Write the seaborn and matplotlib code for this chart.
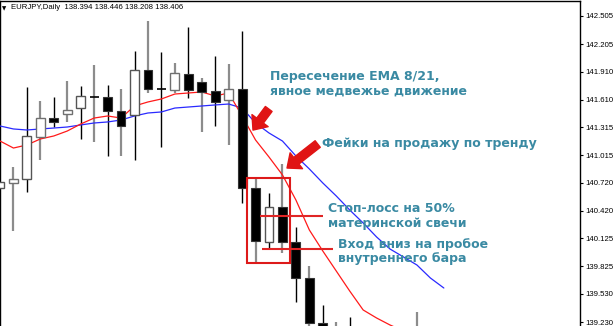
import numpy as np
import pandas as pd
import matplotlib
matplotlib.use("Agg")
import matplotlib.pyplot as plt
import seaborn as sns
from matplotlib.patches import Rectangle

# ---------------- data ----------------
nan = np.nan
opens  = [140.664, 140.718, 140.761, 141.210, 141.413, 141.456, 141.520, 141.638, 141.638, 141.488,
          141.446, 141.927, 141.724, 141.713, 141.884, 141.799, 141.702, 141.606, 141.724, 140.664,
          140.086, 140.461, 140.086, 139.701, 139.220, 139.091, 139.145, nan, nan, nan, nan, 139.150]
highs  = [140.729, 140.889, 141.745, 141.595, 141.638, 141.809, 141.756, 141.981, 141.767, 141.724,
          142.130, 142.451, 142.120, 142.002, 142.387, 141.842, 142.077, 141.991, 142.345, 140.771,
          140.611, 140.921, 140.247, 139.830, 139.412, 139.230, 139.284, nan, nan, nan, nan, 139.337]
lows   = [140.664, 140.204, 140.622, 140.964, 141.317, 141.371, 141.189, 141.157, 141.007, 141.007,
          140.964, 141.681, 141.103, 141.681, 141.627, 141.264, 141.328, 141.125, 140.504, 139.862,
          140.011, 139.969, 139.444, 139.038, 138.824, 138.824, 138.850, nan, nan, nan, nan, 138.850]
closes = [140.729, 140.761, 141.221, 141.413, 141.371, 141.499, 141.649, 141.638, 141.488, 141.328,
          141.927, 141.724, 141.724, 141.895, 141.713, 141.692, 141.585, 141.724, 140.664, 140.097,
          140.461, 140.086, 139.701, 139.220, 138.931, 138.984, 139.038, nan, nan, nan, nan, 139.050]

ema8 = [141.167, 141.092, 141.125, 141.189, 141.221, 141.274, 141.349, 141.413, 141.435, 141.413,
        141.542, 141.585, 141.617, 141.670, 141.681, 141.692, 141.649, 141.681, 141.435, 141.178,
        140.996, 140.804, 140.536, 140.215, 139.990, 139.776, 139.562, 139.359, 139.273, 139.198,
        139.134]
ema21 = [141.328, 141.296, 141.285, 141.296, 141.306, 141.317, 141.339, 141.360, 141.371, 141.392,
         141.435, 141.467, 141.478, 141.520, 141.531, 141.542, 141.553, 141.563, 141.520, 141.360,
         141.253, 141.167, 141.007, 140.868, 140.718, 140.579, 140.429, 140.290, 140.140, 140.011,
         139.926, 139.840, 139.701, 139.594]

price_ticks = [142.505, 142.205, 141.910, 141.610, 141.315, 141.015, 140.720, 140.420,
               140.125, 139.825, 139.530, 139.230]
title_text = "EURJPY,Daily  138.394 138.446 138.208 138.406"
stop_price = 140.365
mother_idx = 19
inside_idx = 20
entry_price = lows[inside_idx]

# ---------------- figure ----------------
sns.set_theme(style="white")
plt.rcParams["font.family"] = ["DejaVu Sans"]

W, H = 614, 326
fig = plt.figure(figsize=(W / 100, H / 100), dpi=100)
ax = fig.add_axes([0.0, 0.0, 580 / W, 325 / H])
ax.set_facecolor("white")

n = len(opens)
idx = np.arange(n)
df = pd.DataFrame({"i": idx, "o": opens, "h": highs, "l": lows, "c": closes})

# EMA lines via seaborn
ema_df = pd.concat([
    pd.DataFrame({"i": np.arange(len(ema21)), "v": ema21, "s": "EMA21"}),
    pd.DataFrame({"i": np.arange(len(ema8)), "v": ema8, "s": "EMA8"}),
])
sns.lineplot(data=ema_df, x="i", y="v", hue="s",
             palette={"EMA21": "#2a2aff", "EMA8": "#ff1a1a"},
             linewidth=0.9, legend=False, ax=ax, zorder=3)

# candles
body_w = 0.66
for _, r in df.iterrows():
    if np.isnan(r.o):
        continue
    gray = int(r.i) % 2 == 1
    wc = "#8c8c8c" if gray else "#000000"
    wl = 1.6 if gray else 1.0
    ax.vlines(r.i, r.l, r.h, color=wc, linewidth=wl, zorder=2)
    lo, hi = min(r.o, r.c), max(r.o, r.c)
    if hi - lo < 1e-6:
        ax.hlines(r.o, r.i - body_w / 2, r.i + body_w / 2, color="#000000", linewidth=1.2, zorder=4)
    elif r.c > r.o:
        ax.bar(r.i, hi - lo, bottom=lo, width=body_w, color="white",
               edgecolor="#555555" if not gray else "#707070", linewidth=1.0, zorder=4)
    else:
        ax.bar(r.i, hi - lo, bottom=lo, width=body_w, color="black",
               edgecolor="#333333", linewidth=0.8, zorder=4)

# highlight rectangle (mother candle range) and level lines
ax.add_patch(Rectangle((mother_idx - 0.62, lows[mother_idx]), 2.0 + 1.2,
                       highs[mother_idx] - lows[mother_idx],
                       fill=False, edgecolor="#dd1a1a", linewidth=1.5, zorder=5))
ax.hlines(stop_price, 19.33, 24.0, color="#e02525", linewidth=1.5, zorder=5)
ax.hlines(entry_price, 19.48, 24.76, color="#e02525", linewidth=1.5, zorder=5)

# arrows
arrow_kw = dict(arrowstyle="simple,head_length=0.85,head_width=1.45,tail_width=0.6",
                color="#e01414", shrinkA=0, shrinkB=0, mutation_scale=10)
ax.annotate("", xy=(18.81, 141.284), xytext=(19.98, 141.510), arrowprops=arrow_kw, zorder=6)
ax.annotate("", xy=(21.34, 140.878), xytext=(23.62, 141.135), arrowprops=arrow_kw, zorder=6)

# annotation texts
tc = "#3a8aa3"
fs = 9.0
txt = dict(color=tc, fontsize=fs, fontweight="bold", va="baseline", ha="left", zorder=7)
ax.text(20.07, 141.820, "Пересечение EMA 8/21,", **txt)
ax.text(20.07, 141.660, "явное медвежье движение", **txt)
ax.text(23.94, 141.103, "Фейки на продажу по тренду", **txt)
ax.text(24.39, 140.407, "Стоп-лосс на 50%", **txt)
ax.text(24.39, 140.247, "материнской свечи", **txt)
ax.text(25.13, 140.022, "Вход вниз на пробое", **txt)
ax.text(25.13, 139.872, "внутреннего бара", **txt)

# title
ax.text(0.004, 0.985, "▼", transform=ax.transAxes, fontsize=4, color="black",
        va="top", ha="left", zorder=8)
ax.text(0.019, 0.992, title_text, transform=ax.transAxes, fontsize=5.6,
        family="Liberation Sans", color="black", va="top", ha="left", zorder=8)

# axes
ax.set_xlim(0, 580 / 13.45)
ax.set_ylim(139.1874, 142.6655)
ax.set_xlabel("")
ax.set_ylabel("")
ax.set_xticks([])
ax.yaxis.tick_right()
ax.set_yticks(price_ticks)
ax.set_yticklabels([f"{t:.3f}" for t in price_ticks], family="Liberation Sans")
ax.tick_params(axis="y", direction="out", length=2.5, width=0.8, pad=1.5,
               labelsize=5.6, colors="black", right=True, left=False)
for s in ["left", "top", "right"]:
    ax.spines[s].set_visible(True)
    ax.spines[s].set_color("black")
    ax.spines[s].set_linewidth(1.0)
ax.spines["bottom"].set_visible(False)
ax.grid(False)

fig.savefig("out.png", dpi=100, facecolor="white")
